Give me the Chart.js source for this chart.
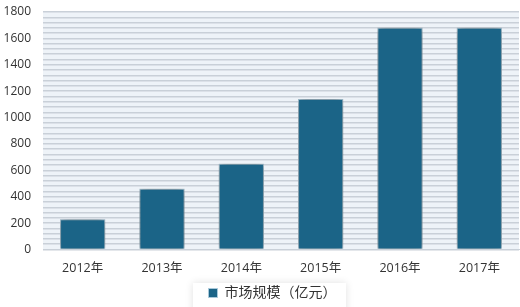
<!DOCTYPE html>
<html>
<head>
<meta charset="utf-8">
<script src="https://cdn.jsdelivr.net/npm/chart.js@4/dist/chart.umd.min.js"></script>
<style>
  html, body { margin: 0; padding: 0; background: #fff; }
  #wrap { width: 520px; height: 307px; position: relative; }
</style>
</head>
<body>
<div id="wrap"><canvas id="chart"></canvas></div>
<script>
// 데이터
const years = ['2012年', '2013年', '2014年', '2015年', '2016年', '2017年'];
const marketSize = [230, 460, 650, 1140, 1680, 1680];
const seriesName = '市场规模（亿元）';
const yMax = 1800;
const labelStep = 200;   // 눈금 라벨 간격
const stripeStep = 40;   // 배경 줄무늬 간격

const FONT = '"Open Sans", "Noto Sans CJK SC", sans-serif';

// 플롯 영역 배경
const plotBackground = {
    id: 'plotBackground',
    beforeDraw(chart) {
        const { ctx, chartArea: a } = chart;
        ctx.save();
        ctx.fillStyle = '#eef3f8';
        ctx.fillRect(a.left, a.top, a.right - a.left, a.bottom - a.top);
        ctx.restore();
    }
};

// 막대 그림자
const barShadow = {
    id: 'barShadow',
    beforeDatasetsDraw(chart) {
        const ctx = chart.ctx;
        ctx.save();
        ctx.shadowColor = 'rgba(40, 40, 40, 0.6)';
        ctx.shadowBlur = 8;
        ctx.shadowOffsetX = 0;
        ctx.shadowOffsetY = 0;
    },
    afterDatasetsDraw(chart) {
        chart.ctx.restore();
    }
};

// 범례: 오른쪽/아래로 조금 이동 + 흰 박스 그림자
const legendShiftX = 13;
const legendShiftY = 3;
const legendBox = {
    id: 'legendBox',
    afterLayout(chart) {
        const lg = chart.legend;
        if (!lg) return;
        lg.left += legendShiftX;
        lg.right += legendShiftX;
        lg.top += legendShiftY;
        lg.bottom += legendShiftY;
    },
    beforeDraw(chart) {
        const ctx = chart.ctx;
        ctx.save();
        ctx.fillStyle = '#fff';
        ctx.shadowColor = 'rgba(0, 0, 0, 0.12)';
        ctx.shadowBlur = 8;
        ctx.fillRect(193, 283, 153, 40);
        ctx.restore();
    }
};

new Chart(document.getElementById('chart'), {
    type: 'bar',
    data: {
        labels: years,
        datasets: [{
            label: seriesName,
            data: marketSize,
            backgroundColor: '#1b6487',
            borderColor: '#a9c9da',
            borderWidth: 1,
            borderSkipped: 'bottom',
            barPercentage: 0.57,
            categoryPercentage: 1
        }]
    },
    options: {
        responsive: true,
        maintainAspectRatio: false,
        animation: false,
        layout: { padding: { top: 0, right: 1, left: 0, bottom: 0 } },
        plugins: {
            tooltip: { enabled: false },
            legend: {
                position: 'bottom',
                labels: {
                    font: { family: FONT, size: 14 },
                    color: '#333',
                    boxWidth: 9,
                    boxHeight: 9,
                    padding: 1.5
                }
            }
        },
        scales: {
            x: {
                grid: { display: false },
                border: { color: '#c9d0d8' },
                ticks: {
                    font: { family: FONT, size: 12.5 },
                    color: '#333',
                    padding: 3
                },
                afterFit(scale) { scale.height = 32; }
            },
            y: {
                min: 0,
                max: yMax,
                border: { display: false },
                grid: {
                    color: '#c9d0d8',
                    lineWidth: 1.5,
                    drawTicks: false
                },
                ticks: {
                    stepSize: stripeStep,
                    autoSkip: false,
                    font: { family: FONT, size: 12 },
                    color: '#333',
                    padding: 12,
                    callback: v => (v % labelStep === 0 ? v : '')
                },
                afterFit(scale) {
                    scale.width = 43;
                    scale.paddingTop = 12;
                    scale.paddingBottom = 0;
                }
            }
        }
    },
    plugins: [plotBackground, legendBox, barShadow]
});
</script>
</body>
</html>
